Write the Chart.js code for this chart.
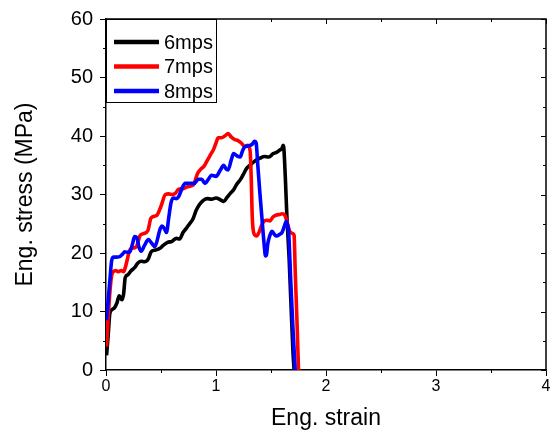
<!DOCTYPE html>
<html><head><meta charset="utf-8">
<script src="https://cdn.jsdelivr.net/npm/chart.js@4/dist/chart.umd.min.js"></script>
<style>html,body{margin:0;padding:0;background:#fff;}#wrap{width:558px;height:439px;}</style>
</head><body><div id="wrap"><canvas id="c" width="558" height="439"></canvas></div>
<script>
const seriesLabels = ['6mps', '7mps', '8mps'];
const seriesColors = ['#000000', '#ff0000', '#0000ff'];

const strain6 = [0.005,0.02,0.036,0.07,0.1,0.12,0.145,0.16,0.175,0.2,0.23,0.26,0.29,0.32,0.35,0.385,0.41,0.45,0.49,0.52,0.56,0.6,0.64,0.67,0.7,0.73,0.76,0.79,0.82,0.85,0.885,0.92,0.96,1.0,1.04,1.07,1.1,1.13,1.16,1.19,1.22,1.25,1.28,1.32,1.36,1.4,1.44,1.48,1.52,1.55,1.58,1.6,1.61,1.615,1.63,1.645,1.665,1.68,1.7,1.71];
const stress6 = [2.5,6,9.8,10.5,11.5,12.7,12,13,15.8,16.3,17,17.5,18.3,18.6,18.5,19,20.2,20.5,20.8,21.3,21.8,22,22.5,22.4,23.5,24.2,25,25.8,27.3,28.3,29,29.3,29.2,29.4,29.1,28.8,29.5,30.2,30.8,31.8,32.5,33.5,34.5,35.2,35.8,36.2,36.5,36.4,37,37.2,37.6,37.9,38.4,38.2,33,26,19,12,3,0];

const strain7 = [0.005,0.02,0.036,0.05,0.066,0.09,0.11,0.14,0.16,0.175,0.19,0.21,0.23,0.26,0.28,0.31,0.34,0.38,0.41,0.46,0.5,0.54,0.57,0.6,0.63,0.66,0.7,0.74,0.78,0.8,0.83,0.86,0.89,0.92,0.95,0.98,1.0,1.02,1.05,1.08,1.11,1.14,1.17,1.2,1.23,1.26,1.29,1.31,1.32,1.33,1.345,1.37,1.39,1.41,1.43,1.46,1.49,1.52,1.55,1.58,1.6,1.63,1.65,1.67,1.7,1.71,1.72,1.735,1.75];
const stress7 = [4,9,13.5,16,16.8,17,16.8,17,16.8,17.5,18.6,20.2,20.8,20.9,21.2,23,23.3,23.8,26,26.4,28,30,30.1,30,30.2,30.9,31,31.3,31.5,31.8,33.5,34.3,34.8,35.8,36.8,37.8,38.8,39.7,39.7,40,40.4,39.8,39.4,39.2,38.8,38.2,38.4,37.5,33,26,23.3,22.9,23.5,24.5,25.3,25.6,25.5,26.2,26.5,26.6,26.7,26.3,25,23.7,23.3,23,17,9,0];

const strain8 = [0.005,0.02,0.036,0.05,0.066,0.1,0.127,0.15,0.17,0.2,0.22,0.24,0.26,0.28,0.3,0.32,0.35,0.385,0.41,0.445,0.47,0.49,0.51,0.53,0.55,0.57,0.59,0.61,0.64,0.665,0.69,0.72,0.76,0.8,0.84,0.87,0.9,0.93,0.96,1.0,1.04,1.07,1.09,1.11,1.14,1.16,1.19,1.22,1.24,1.26,1.29,1.31,1.33,1.35,1.365,1.38,1.4,1.42,1.44,1.45,1.46,1.47,1.49,1.51,1.53,1.55,1.58,1.6,1.62,1.64,1.65,1.66,1.68,1.7,1.72];
const stress8 = [8.5,12,15.5,18.5,19.3,19.3,19.4,19.8,20.2,20.1,20.3,21.5,22.8,22.6,21,20.3,21.3,22.3,21.8,21.1,22.5,24,24.6,24.2,23.5,26,28.5,29.4,29.3,29.8,31,31.9,31.9,31.9,32.6,32.6,31.9,32.6,33.3,33.1,34.2,35,34.4,34.2,36,37,36.6,36.4,37.4,38.1,38.3,38.4,38.6,39.1,38.8,35,30,25.4,21,19.5,19.8,21.5,23,23.7,23.2,22.9,23.2,23.5,24.5,25.4,24.8,23.8,15,7,0];

const xTicks = [0, 1, 2, 3, 4];
const xMinorTicks = [0.5, 1.5, 2.5, 3.5];
const yTicks = [0, 10, 20, 30, 40, 50, 60];
const yMinorTicks = [5, 15, 25, 35, 45, 55];

const strains = [strain6, strain7, strain8];
const stresses = [stress6, stress7, stress8];

const datasets = seriesLabels.map((lab, i) => ({
  label: lab,
  data: strains[i].map((x, k) => ({x: x, y: stresses[i][k]})),
  borderColor: seriesColors[i],
  backgroundColor: seriesColors[i],
  borderWidth: 3.6,
  pointRadius: 0,
  fill: false,
  cubicInterpolationMode: 'monotone',
  order: 3 - i
}));

const FONT = "'Liberation Sans', Arial, sans-serif";

const framePlugin = {
  id: 'frame',
  afterDraw(chart) {
    const ctx = chart.ctx;
    const a = chart.chartArea;
    const xs = chart.scales.x, ys = chart.scales.y;
    ctx.save();
    ctx.strokeStyle = '#000';
    ctx.lineWidth = 1.5;
    ctx.beginPath();
    ctx.moveTo(a.left, a.top); ctx.lineTo(a.right, a.top); ctx.lineTo(a.right, a.bottom);
    ctx.stroke();
    ctx.lineWidth = 1;
    ctx.beginPath();
    xMinorTicks.forEach(v => { const p = Math.round(xs.getPixelForValue(v)) + 0.5;
      ctx.moveTo(p, a.bottom); ctx.lineTo(p, a.bottom + 3);
      ctx.moveTo(p, a.top); ctx.lineTo(p, a.top + 3); });
    xTicks.forEach(v => { const p = Math.round(xs.getPixelForValue(v)) + 0.5;
      ctx.moveTo(p, a.top); ctx.lineTo(p, a.top + 5); });
    yMinorTicks.forEach(v => { const p = Math.round(ys.getPixelForValue(v)) + 0.5;
      ctx.moveTo(a.left, p); ctx.lineTo(a.left - 3, p);
      ctx.moveTo(a.right, p); ctx.lineTo(a.right - 3, p); });
    yTicks.forEach(v => { const p = Math.round(ys.getPixelForValue(v)) + 0.5;
      ctx.moveTo(a.right, p); ctx.lineTo(a.right - 5, p); });
    ctx.stroke();
    // legend
    const lx = a.left, ly = a.top, lw = 110, lh = 83;
    ctx.fillStyle = '#fff';
    ctx.fillRect(lx, ly, lw, lh);
    ctx.lineWidth = 1;
    ctx.strokeStyle = '#000';
    ctx.strokeRect(lx + 0.5, ly + 0.5, lw, lh);
    ctx.font = '20px ' + FONT;
    ctx.textBaseline = 'middle';
    ctx.textAlign = 'left';
    seriesLabels.forEach((lab, i) => {
      const y = ly + 23 + i * 24.5;
      ctx.strokeStyle = seriesColors[i];
      ctx.lineWidth = 4.5;
      ctx.beginPath(); ctx.moveTo(lx + 8, y); ctx.lineTo(lx + 53, y); ctx.stroke();
      ctx.fillStyle = '#000';
      ctx.fillText(lab, lx + 58, y + 1);
    });
    ctx.restore();
  }
};

new Chart(document.getElementById('c'), {
  type: 'line',
  data: { datasets: datasets },
  options: {
    responsive: false,
    animation: false,
    layout: { padding: { left: 0, top: 16, right: 12, bottom: 0 } },
    plugins: { legend: { display: false }, tooltip: { enabled: false } },
    scales: {
      x: {
        type: 'linear', position: 'bottom', min: 0, max: 4,
        afterBuildTicks: s => { s.ticks = xTicks.map(v => ({value: v})); },
        afterFit: s => { s.height = 69; },
        ticks: { font: { size: 16, family: FONT }, color: '#000', padding: 1, maxRotation: 0 },
        grid: { drawOnChartArea: false, drawTicks: true, tickLength: 6, tickColor: '#000', tickWidth: 1 },
        border: { color: '#000', width: 1.5 },
        title: { display: true, text: 'Eng. strain', color: '#000', font: { size: 23, family: FONT }, padding: { top: 0, bottom: 7 } }
      },
      y: {
        type: 'linear', position: 'left', min: 0, max: 60,
        afterBuildTicks: s => { s.ticks = yTicks.map(v => ({value: v})); },
        afterFit: s => { s.width = 106; },
        ticks: { font: { size: 20, family: FONT }, color: '#000', padding: 7 },
        grid: { drawOnChartArea: false, drawTicks: true, tickLength: 6, tickColor: '#000', tickWidth: 1 },
        border: { color: '#000', width: 1.5 },
        title: { display: true, text: 'Eng. stress (MPa)', color: '#000', font: { size: 23, family: FONT }, padding: { top: 12, bottom: 0 } }
      }
    }
  },
  plugins: [framePlugin]
});
</script></body></html>
